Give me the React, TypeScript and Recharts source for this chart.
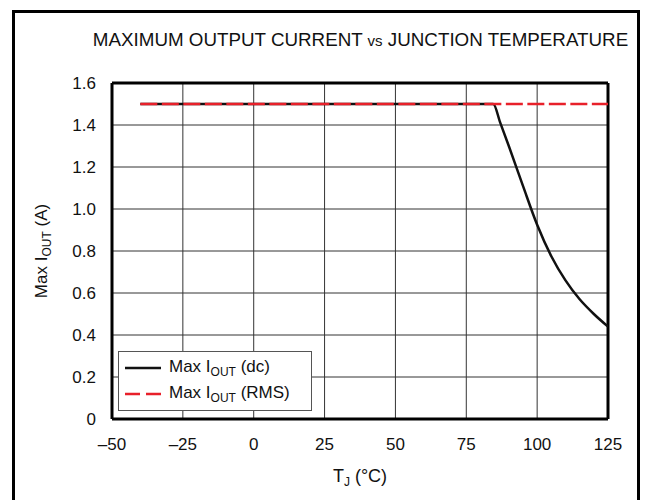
import { LineChart, Line, XAxis, YAxis, CartesianGrid, ReferenceLine } from 'recharts'

const xTicks = [-50, -25, 0, 25, 50, 75, 100, 125]
const yTicks = [0, 0.2, 0.4, 0.6, 0.8, 1.0, 1.2, 1.4, 1.6]

// Max IOUT (dc): flat at 1.5 A, then derated above ~84 °C
const dcTemp = [-40, 84.5, 87, 90, 95, 100, 105, 110, 115, 120, 125]
const dcCurrent = [1.5, 1.5, 1.41, 1.3, 1.11, 0.925, 0.775, 0.66, 0.57, 0.5, 0.44]

// Max IOUT (RMS)
const rmsTemp = [-40, 125]
const rmsCurrent = [1.5, 1.5]

const dcData = dcTemp.map((t, i) => ({ t, i: dcCurrent[i] }))
const rmsData = rmsTemp.map((t, i) => ({ t, i: rmsCurrent[i] }))

const font = '"Liberation Sans", Arial, Helvetica, sans-serif'

const fmtX = (v: number) => (v < 0 ? `\u2013${Math.abs(v)}` : `${v}`)
const fmtY = (v: number) => (v === 0 ? '0' : v.toFixed(1))

const subStyle = { fontSize: 12, verticalAlign: -4 }

function LegendBox() {
  const row = (dash: boolean, label: string) => (
    <div style={{ display: 'flex', alignItems: 'center', height: 26 }}>
      <svg width={44} height={10} style={{ marginLeft: 6 }}>
        <line x1={0} y1={5} x2={36} y2={5} stroke={dash ? '#e8202a' : '#111'}
          strokeWidth={2.5} strokeDasharray={dash ? '15 6' : undefined} />
      </svg>
      <span>Max I<sub style={subStyle}>OUT</sub> ({label})</span>
    </div>
  )
  return (
    <div style={{
      position: 'absolute', left: 118, top: 351, width: 194, height: 60,
      border: '1.5px solid #555', background: '#fff',
      fontSize: 17, color: '#111', padding: '3px 0', boxSizing: 'border-box',
    }}>
      {row(false, 'dc')}
      {row(true, 'RMS')}
    </div>
  )
}

export default function App() {
  return (
    <div style={{ position: 'absolute', left: 0, top: 0, width: 652, height: 500, background: '#fff', overflow: 'hidden', fontFamily: font }}>
      <div style={{ position: 'absolute', left: 12, top: 10, width: 622, height: 520, borderLeft: '3px solid #000', borderTop: '3px solid #000', borderRight: '3px solid #000' }} />
      <div style={{ position: 'absolute', left: 0, width: 721, top: 29, textAlign: 'center', fontSize: 18.8, color: '#111', whiteSpace: 'nowrap' }}>
        MAXIMUM OUTPUT CURRENT <span style={{ fontSize: 15 }}>vs</span> JUNCTION TEMPERATURE
      </div>
      <LineChart width={652} height={500} data={dcData}
        margin={{ top: 83, right: 44, left: 52, bottom: 51 }}
        style={{ position: 'absolute', left: 0, top: 0 }}>
        <CartesianGrid stroke="#333" strokeWidth={1} vertical horizontal />
        <XAxis dataKey="t" type="number" domain={[-50, 125]} ticks={xTicks} tickFormatter={fmtX}
          height={30} tickLine={false} tickMargin={13} axisLine={{ stroke: '#000', strokeWidth: 3 }}
          tick={{ fill: '#111', fontSize: 17, fontFamily: font }} allowDataOverflow />
        <YAxis dataKey="i" type="number" domain={[0, 1.6]} ticks={yTicks} tickFormatter={fmtY}
          width={60} tickLine={false} tickMargin={10} axisLine={{ stroke: '#000', strokeWidth: 3 }}
          tick={{ fill: '#111', fontSize: 17, fontFamily: font }} allowDataOverflow />
        <ReferenceLine x={125} stroke="#000" strokeWidth={3} />
        <ReferenceLine y={1.6} stroke="#000" strokeWidth={3} />
        <Line data={dcData} dataKey="i" type="monotone" stroke="#111" strokeWidth={2.5} dot={false} isAnimationActive={false} />
        <Line data={rmsData} dataKey="i" type="linear" stroke="#e8202a" strokeWidth={2.7} strokeDasharray="17 4.5" dot={false} isAnimationActive={false} />
      </LineChart>
      <LegendBox />
      <div style={{ position: 'absolute', left: 0, width: 720, top: 466, textAlign: 'center', fontSize: 18, color: '#111' }}>
        T<sub style={subStyle}>J</sub> (°C)
      </div>
      <div style={{ position: 'absolute', left: 43, top: 251, transform: 'translate(-50%, -50%) rotate(-90deg)', whiteSpace: 'nowrap', fontSize: 17, color: '#111' }}>
        Max I<sub style={subStyle}>OUT</sub> (A)
      </div>
    </div>
  )
}
